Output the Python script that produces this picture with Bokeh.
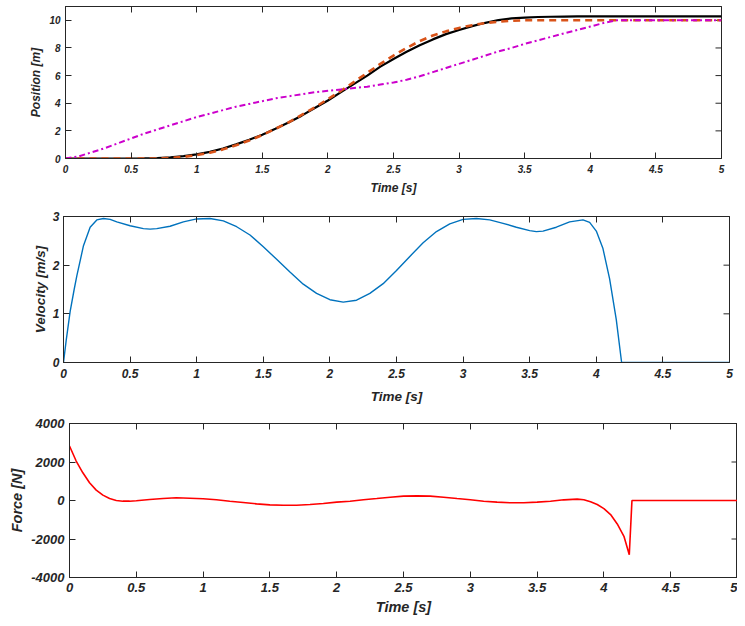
from bokeh.plotting import figure
from bokeh.models import Range1d, LinearAxis, FixedTicker
from bokeh.embed import file_html
from bokeh.resources import INLINE

# ---------------- data ----------------
x_ticks = [0, 0.5, 1, 1.5, 2, 2.5, 3, 3.5, 4, 4.5, 5]
x_tick_labels = ["0", "0.5", "1", "1.5", "2", "2.5", "3", "3.5", "4", "4.5", "5"]

pos_ticks = [0, 2, 4, 6, 8, 10]
pos_tick_labels = ["0", "2", "4", "6", "8", "10"]
vel_ticks = [0, 1, 2, 3]
vel_tick_labels = ["0", "1", "2", "3"]
force_ticks = [-4000, -2000, 0, 2000, 4000]
force_tick_labels = ["-4000", "-2000", "0", "2000", "4000"]

t_pos = [0.0, 0.1, 0.2, 0.3, 0.4, 0.5, 0.6, 0.7, 0.8, 0.9, 1.0, 1.1, 1.2, 1.3, 1.4,
         1.5, 1.6, 1.7, 1.8, 1.9, 2.0, 2.1, 2.2, 2.3, 2.4, 2.5, 2.6, 2.7, 2.8, 2.9,
         3.0, 3.1, 3.2, 3.3, 3.4, 3.5, 3.6, 3.7, 3.8, 3.9, 4.0, 4.1, 4.2, 4.3, 4.4,
         4.5, 4.6, 4.7, 4.8, 4.9, 5.0]
pos_actual = [0, 0, 0, 0, 0, 0, 0.01, 0.03, 0.08, 0.17, 0.30, 0.48, 0.72, 1.02, 1.35,
              1.72, 2.15, 2.60, 3.10, 3.65, 4.20, 4.80, 5.40, 6.00, 6.65, 7.20, 7.72,
              8.20, 8.62, 9.00, 9.30, 9.58, 9.82, 10.02, 10.14, 10.20, 10.24, 10.26,
              10.27, 10.28, 10.28, 10.28, 10.28, 10.28, 10.28, 10.28, 10.28, 10.28,
              10.28, 10.28, 10.28]
pos_ref = [0, 0, 0, 0, 0, 0, 0, 0, 0.04, 0.12, 0.24, 0.42, 0.66, 0.96, 1.30, 1.70,
           2.15, 2.62, 3.15, 3.70, 4.30, 4.90, 5.55, 6.20, 6.85, 7.45, 8.00, 8.50,
           8.90, 9.20, 9.45, 9.65, 9.80, 9.90, 9.97, 10.0, 10.0, 10.0, 10.0, 10.0,
           10.0, 10.0, 10.0, 10.0, 10.0, 10.0, 10.0, 10.0, 10.0, 10.0, 10.0]
pos_alt = [0, 0.15, 0.45, 0.75, 1.10, 1.45, 1.80, 2.10, 2.40, 2.70, 3.00, 3.25, 3.50,
           3.75, 3.95, 4.15, 4.35, 4.50, 4.65, 4.80, 4.90, 5.00, 5.10, 5.20, 5.35,
           5.50, 5.70, 5.95, 6.25, 6.55, 6.85, 7.15, 7.45, 7.75, 8.00, 8.30, 8.55,
           8.80, 9.05, 9.30, 9.55, 9.80, 10.0, 10.0, 10.0, 10.0, 10.0, 10.0, 10.0,
           10.0, 10.0]

t_vel = [0, 0.02, 0.05, 0.08, 0.1, 0.15, 0.2, 0.25, 0.3, 0.35, 0.4, 0.5, 0.6, 0.65,
         0.7, 0.8, 0.9, 1.0, 1.1, 1.2, 1.3, 1.4, 1.5, 1.6, 1.7, 1.8, 1.9, 2.0, 2.1,
         2.2, 2.3, 2.4, 2.5, 2.6, 2.7, 2.8, 2.9, 3.0, 3.1, 3.2, 3.3, 3.4, 3.5, 3.55,
         3.6, 3.7, 3.8, 3.9, 3.95, 4.0, 4.05, 4.1, 4.15, 4.19, 4.2, 5.0]
velocity = [0, 0.45, 1.05, 1.5, 1.78, 2.4, 2.78, 2.93, 2.96, 2.94, 2.89, 2.81, 2.75,
            2.74, 2.75, 2.80, 2.89, 2.95, 2.96, 2.91, 2.79, 2.62, 2.38, 2.12, 1.86,
            1.61, 1.42, 1.29, 1.24, 1.28, 1.42, 1.62, 1.89, 2.18, 2.46, 2.69, 2.85,
            2.94, 2.96, 2.93, 2.86, 2.78, 2.71, 2.69, 2.70, 2.78, 2.89, 2.93, 2.88,
            2.70, 2.34, 1.72, 0.88, 0, 0, 0]

t_force = [0, 0.05, 0.1, 0.15, 0.2, 0.25, 0.3, 0.35, 0.4, 0.45, 0.5, 0.6, 0.7, 0.8,
           0.9, 1.0, 1.1, 1.2, 1.3, 1.4, 1.5, 1.6, 1.7, 1.8, 1.9, 2.0, 2.1, 2.2, 2.3,
           2.4, 2.5, 2.6, 2.7, 2.8, 2.9, 3.0, 3.1, 3.2, 3.3, 3.4, 3.5, 3.6, 3.7, 3.8,
           3.85, 3.9, 3.95, 4.0, 4.05, 4.1, 4.15, 4.19, 4.21, 5.0]
force = [2830, 2050, 1440, 920, 540, 280, 100, 0, -35, -35, -10, 50, 100, 140, 120,
         90, 35, -35, -100, -175, -225, -245, -245, -210, -155, -85, -35, 35, 100,
         170, 225, 240, 225, 170, 100, 35, -35, -85, -120, -120, -85, -35, 35, 70,
         35, -70, -210, -420, -730, -1220, -1860, -2820, 0, 0]

# ---------------- styling helpers ----------------
FONT = "Liberation Sans"
TXT = "#262626"
X_END = x_ticks[-1]


def make_fig(width, height, yr, yticks, ylabels, ylabel, bl, br, bt, bb,
             tick_fs, lab_fs, x_std, xlab_std, y_std, ylab_std):
    p = figure(width=width, height=height, x_range=Range1d(0, X_END),
               y_range=Range1d(*yr),
               output_backend="svg", toolbar_location=None, tools="",
               min_border_left=bl, min_border_right=br,
               min_border_top=bt, min_border_bottom=bb,
               background_fill_color="white", border_fill_color="white")
    p.grid.visible = False
    p.outline_line_color = TXT
    p.outline_line_width = 1

    xa = p.xaxis[0]
    xa.ticker = FixedTicker(ticks=x_ticks)
    xa.major_label_overrides = {float(k): v for k, v in zip(x_ticks, x_tick_labels)}
    xa.axis_label = "Time [s]"
    xa.major_label_standoff = x_std
    xa.axis_label_standoff = xlab_std

    ya = p.yaxis[0]
    ya.ticker = FixedTicker(ticks=yticks)
    ya.major_label_overrides = {float(k): v for k, v in zip(yticks, ylabels)}
    ya.axis_label = ylabel
    ya.major_label_standoff = y_std
    ya.axis_label_standoff = ylab_std

    for ax in (xa, ya):
        ax.major_tick_in = 6
        ax.major_tick_out = 0
        ax.minor_tick_in = 0
        ax.minor_tick_out = 0
        ax.axis_line_color = TXT
        ax.major_tick_line_color = TXT
        ax.major_label_text_font = FONT
        ax.major_label_text_font_style = "bold italic"
        ax.major_label_text_font_size = f"{tick_fs}px"
        ax.major_label_text_color = TXT
        ax.axis_label_text_font = FONT
        ax.axis_label_text_font_style = "bold italic"
        ax.axis_label_text_font_size = f"{lab_fs}px"
        ax.axis_label_text_color = TXT

    # box ticks along the top side: minor ticks only, so no labels
    top = LinearAxis(ticker=FixedTicker(ticks=[], minor_ticks=x_ticks), axis_label=None)
    top.major_tick_in = 0
    top.major_tick_out = 0
    top.minor_tick_in = 6
    top.minor_tick_out = 0
    top.axis_line_color = TXT
    top.minor_tick_line_color = TXT
    top.major_label_standoff = 0
    top.axis_label_standoff = 0
    p.add_layout(top, "above")

    # box ticks along the right side (marker centred on the frame edge,
    # the outer half is clipped away by the frame)
    p.scatter([X_END] * len(yticks), yticks, marker="dash", size=12,
              line_color=TXT, line_width=1)
    return p


# ---------------- position ----------------
p1 = make_fig(737, 208, (0, 11), pos_ticks, pos_tick_labels, "Position [m]",
              65, 16, 6, 50, 10, 12, 6, 5, 5, 3)
p1.line(t_pos, pos_actual, line_color="black", line_width=2.2)
p1.line(t_pos, pos_ref, line_color="#D95319", line_width=2.6, line_dash="7 5")
p1.line(t_pos, pos_alt, line_color="#CC00CC", line_width=2.0, line_dash="6 3 2 3")

# ---------------- velocity ----------------
p2 = make_fig(737, 202, (0, 3), vel_ticks, vel_tick_labels, "Velocity [m/s]",
              63, 8, 8, 48, 12, 13.5, 6, 8, 4, 2)
p2.line(t_vel, velocity, line_color="#0072BD", line_width=1.4)

# ---------------- force ----------------
p3 = make_fig(737, 208, (-4000, 4000), force_ticks, force_tick_labels, "Force [N]",
              69, 0, 13, 41, 13, 14.5, 5, 4, 5, 3)
p3.line(t_force, force, line_color="#FF0000", line_width=1.6)

open("out.html", "w").write(file_html([p1, p2, p3], INLINE))
